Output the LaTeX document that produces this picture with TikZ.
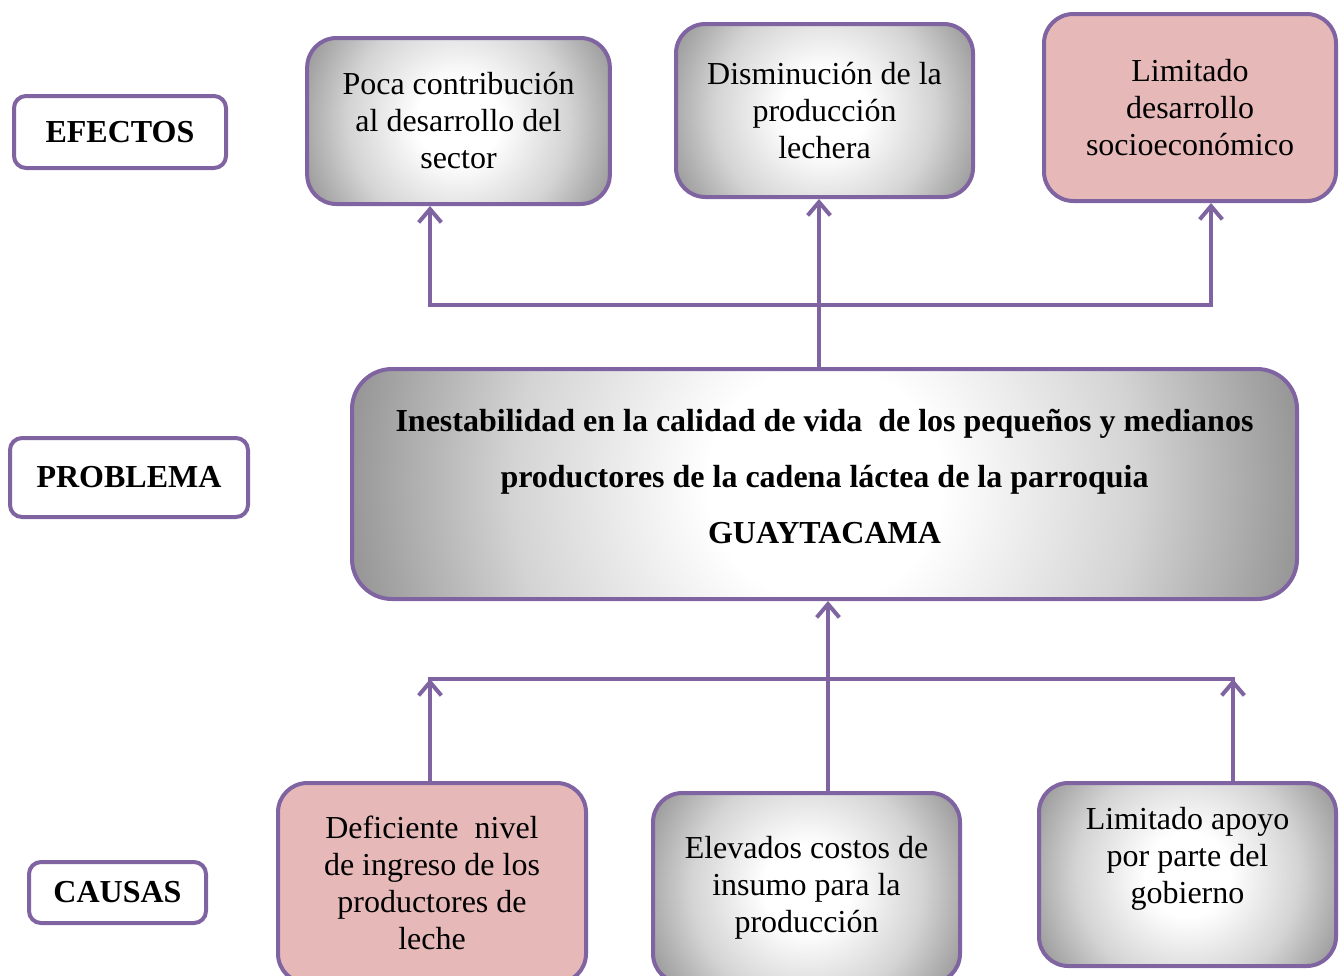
\documentclass[tikz,border=0pt]{standalone}
\usepackage{fontspec}
\setmainfont{Liberation Serif}
\usetikzlibrary{arrows.meta,calc}

\definecolor{morado}{HTML}{8064A2}
\definecolor{rosa}{HTML}{E6B9B8}
\definecolor{grisborde}{HTML}{939393}

% degradado circular: blanco al centro, gris hacia las esquinas
\pgfdeclareradialshading{degradado}{\pgfpoint{0bp}{0bp}}{%
  color(0bp)=(white); color(6bp)=(white); color(16bp)=(grisborde!40);
  color(25bp)=(grisborde); color(50bp)=(grisborde)}

\tikzset{
  punta/.tip={Straight Barb[length=10pt,width=17pt]},
  caja/.style={draw=morado, line width=3pt, rounded corners=22pt, align=center, inner sep=0pt,
    font=\fontsize{24}{27.75}\selectfont},
  cajagris/.style={caja, path picture={
      \fill[grisborde] (path picture bounding box.south west) rectangle (path picture bounding box.north east);
      \shade[shading=degradado]
        let \p1=($(path picture bounding box.north east)-(path picture bounding box.center)$),
            \n1={veclen(\x1,\y1)} in
        (path picture bounding box.center) circle (\n1);
    }},
  cajarosa/.style={caja, fill=rosa},
  texto/.style={align=center, inner sep=0pt, font=\fontsize{24}{27.75}\selectfont},
  etiqueta/.style={draw=morado, line width=3pt, rounded corners=9pt, fill=white, inner sep=0pt,
    font=\fontsize{24}{28}\selectfont\bfseries},
  linea/.style={morado, line width=3pt},
  flecha/.style={linea, -punta},
  ambas/.style={linea, punta-punta},
}

\begin{document}
\begin{tikzpicture}[x=0.75pt,y=-0.75pt]
\useasboundingbox (0,0) rectangle (1344,975);

% etiquetas de la izquierda
\node[etiqueta, minimum width=159pt, minimum height=54pt] (efectos) at (120,132) {EFECTOS};
\node[etiqueta, minimum width=178.5pt, minimum height=59.25pt] (problema) at (129,477.5) {PROBLEMA};
\node[etiqueta, minimum width=132.75pt, minimum height=45.75pt] (causas) at (117.5,892.5) {CAUSAS};

% efectos
\node[cajagris, minimum width=227pt, minimum height=124.5pt] (e1) at (458.5,121)
  {Poca contribución\\al desarrollo del\\sector};
\node[cajagris, minimum width=222.75pt, minimum height=129.75pt] (e2) at (824.5,110.5)
  {Disminución de la\\producción\\lechera};
\node[cajarosa, minimum width=219pt, minimum height=140.25pt] (e3) at (1190,107.5)
  {Limitado\\desarrollo\\socioeconómico};

% problema
\node[cajagris, rounded corners=30pt, minimum width=708.75pt, minimum height=172.5pt] (prob) at (824.5,484) {};
\node[texto, font=\fontsize{24}{42}\selectfont\bfseries] (probt) at (824.5,476)
  {Inestabilidad en la calidad de vida\ \ de los pequeños y medianos\\
   productores de la cadena láctea de la parroquia\\
   GUAYTACAMA};

% causas
\node[cajarosa, minimum width=231pt, minimum height=150pt] (c1) at (432,883)
  {Deficiente\ \ nivel\\de ingreso de los\\productores de\\leche};
\node[cajagris, minimum width=230.25pt, minimum height=142.5pt] (c2) at (806.5,888)
  {Elevados costos de\\insumo para la\\producción};
\node[cajagris, minimum width=222.75pt, minimum height=137.25pt] (c3) at (1187.5,874.5) {};
\node[texto] (c3t) at (1187.5,859) {Limitado apoyo\\por parte del\\gobierno};

% conectores de arriba
\coordinate (tl) at (430,305);
\coordinate (tr) at (1211,305);
\coordinate (tm) at (819,305);
\draw[ambas] (tl |- e1.south) -- (tl) -- (tr) -- (tr |- e3.south);
\draw[flecha] (tm |- prob.north) -- (tm |- e2.south);

% conectores de abajo
\coordinate (bl) at (430,679);
\coordinate (br) at (1233,679);
\coordinate (bm) at (828,679);
\draw[linea, line cap=rect] (bl) -- (br);
\draw[flecha] (bl |- c1.north) -- (bl);
\draw[flecha] (br |- c3.north) -- (br);
\draw[flecha] (bm |- c2.north) -- (bm |- prob.south);

\end{tikzpicture}
\end{document}
